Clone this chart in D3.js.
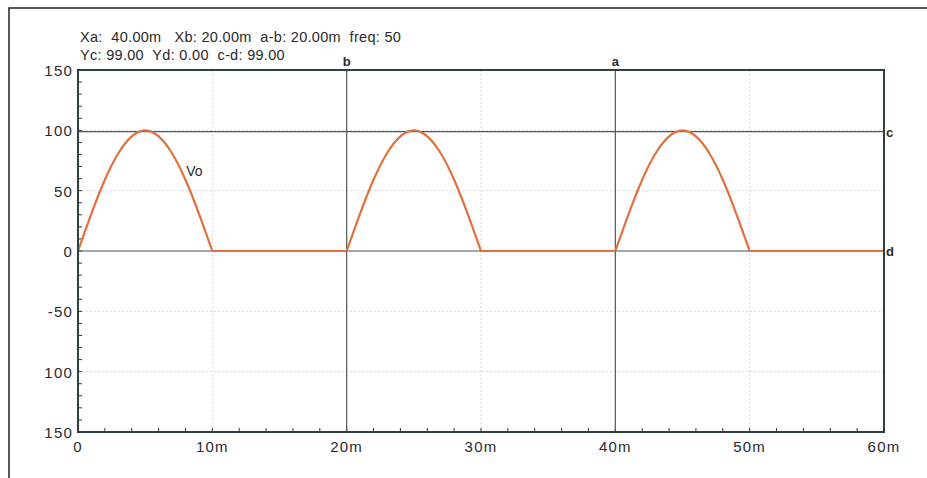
<!DOCTYPE html>
<html lang="en">
<head>
    <meta charset="UTF-8">
    <title>Vo</title>
    <style>
        body { margin: 0; background: #fff; }
        text { font-family: "Liberation Sans", Arial, sans-serif; fill: #2a2a2a; }
    </style>
</head>
<body>
    <div id="chart-wrapper"></div>
    <script src="https://d3js.org/d3.v7.min.js"></script>
    <script>
        // time in ms, Vo
        const timeMs = [0, 1, 2, 3, 4, 5, 6, 7, 8, 9, 10, 20, 21, 22, 23, 24, 25, 26, 27, 28, 29, 30, 40, 41, 42, 43, 44, 45, 46, 47, 48, 49, 50, 60]
        const vo = [0, 31, 59, 81, 95, 100, 95, 81, 59, 31, 0, 0, 31, 59, 81, 95, 100, 95, 81, 59, 31, 0, 0, 31, 59, 81, 95, 100, 95, 81, 59, 31, 0, 0]

        const xTicks = [0, 10, 20, 30, 40, 50, 60]
        const xTickLabels = ['0', '10m', '20m', '30m', '40m', '50m', '60m']
        const yTicks = [150, 100, 50, 0, -50, -100, -150]
        const yTickLabels = ['150', '100', '50', '0', '-50', '100', '150']

        const cursorsX = [{ name: 'b', t: 20 }, { name: 'a', t: 40 }]
        const cursorsY = [{ name: 'c', v: 99 }, { name: 'd', v: 0 }]
        const readout = [
            'Xa:  40.00m   Xb: 20.00m  a-b: 20.00m  freq: 50',
            'Yc: 99.00  Yd: 0.00  c-d: 99.00'
        ]

        const W = 927, H = 478
        const plot = { left: 78, right: 884, top: 70, bottom: 432 }

        const svg = d3.select('#chart-wrapper').append('svg')
            .attr('width', W).attr('height', H)

        // outer frame (only top + left show in the window)
        svg.append('rect')
            .attr('x', 9).attr('y', 8).attr('width', W).attr('height', H)
            .attr('fill', 'none').attr('stroke', '#222').attr('stroke-width', 1.5)

        const x = d3.scaleLinear().domain([0, 60]).range([plot.left, plot.right])
        const y = d3.scaleLinear().domain([-150, 150]).range([plot.bottom, plot.top])

        // dotted grid
        const grid = svg.append('g').attr('stroke', '#d3dae0').attr('stroke-width', 1).attr('stroke-dasharray', '2,2')
        grid.selectAll('.gx').data(xTicks.slice(1, -1)).enter().append('line')
            .attr('x1', d => x(d)).attr('x2', d => x(d))
            .attr('y1', plot.top).attr('y2', plot.bottom)
        grid.selectAll('.gy').data(yTicks.slice(1, -1)).enter().append('line')
            .attr('y1', d => y(d)).attr('y2', d => y(d))
            .attr('x1', plot.left).attr('x2', plot.right)

        // minor ticks, pointing inward
        const ticks = svg.append('g').attr('stroke', '#333').attr('stroke-width', 1)
        ticks.selectAll('.tx').data(d3.range(0, 61, 2)).enter().append('line')
            .attr('x1', d => x(d)).attr('x2', d => x(d))
            .attr('y1', plot.bottom).attr('y2', plot.bottom - 4)
        ticks.selectAll('.ty').data(d3.range(-150, 151, 10)).enter().append('line')
            .attr('y1', d => y(d)).attr('y2', d => y(d))
            .attr('x1', plot.left).attr('x2', plot.left + 4)

        // cursors
        const cur = svg.append('g').attr('stroke', '#4f5a5c').attr('stroke-width', 1.2)
        cur.selectAll('.cx').data(cursorsX).enter().append('line')
            .attr('x1', d => x(d.t)).attr('x2', d => x(d.t))
            .attr('y1', plot.top).attr('y2', plot.bottom)
        cur.selectAll('.cy').data(cursorsY).enter().append('line')
            .attr('y1', d => y(d.v)).attr('y2', d => y(d.v))
            .attr('x1', plot.left).attr('x2', plot.right)

        svg.selectAll('.cxl').data(cursorsX).enter().append('text')
            .attr('x', d => x(d.t)).attr('y', plot.top - 4)
            .attr('text-anchor', 'middle').attr('font-size', 13).attr('font-weight', 'bold')
            .text(d => d.name)
        svg.selectAll('.cyl').data(cursorsY).enter().append('text')
            .attr('x', plot.right + 2).attr('y', d => y(d.v) + 5)
            .attr('font-size', 13).attr('font-weight', 'bold')
            .text(d => d.name)

        // trace: split into pulses (smooth) and flat parts (straight)
        const pts = timeMs.map((t, i) => [t, vo[i]])
        const segments = []
        let seg = [pts[0]]
        for (let i = 1; i < pts.length; i++) {
            seg.push(pts[i])
            const flatNext = i + 1 < pts.length && pts[i][1] === 0 && pts[i + 1][1] === 0
            const pulseNext = i + 1 < pts.length && pts[i][1] === 0 && pts[i + 1][1] !== 0
            if (flatNext || pulseNext) {
                segments.push(seg)
                seg = [pts[i]]
            }
        }
        if (seg.length > 1) segments.push(seg)

        const smooth = d3.line().x(d => x(d[0])).y(d => y(d[1])).curve(d3.curveNatural)
        svg.append('g').selectAll('path').data(segments).enter().append('path')
            .attr('d', smooth)
            .attr('fill', 'none')
            .attr('stroke', '#e0713f')
            .attr('stroke-width', 2.2)

        svg.append('text').attr('x', x(8.05)).attr('y', y(62))
            .attr('font-size', 14).text('Vo')

        // plot frame
        svg.append('rect')
            .attr('x', plot.left).attr('y', plot.top)
            .attr('width', plot.right - plot.left).attr('height', plot.bottom - plot.top)
            .attr('fill', 'none').attr('stroke', '#2f4040').attr('stroke-width', 2)

        // tick labels
        svg.selectAll('.xl').data(xTicks).enter().append('text')
            .attr('x', d => x(d)).attr('y', plot.bottom + 20)
            .attr('text-anchor', 'middle').attr('font-size', 15).attr('letter-spacing', 1.2)
            .text((d, i) => xTickLabels[i])
        svg.selectAll('.yl').data(yTicks).enter().append('text')
            .attr('x', plot.left - 5).attr('y', d => y(d) + 6)
            .attr('text-anchor', 'end').attr('font-size', 15).attr('letter-spacing', 1.2)
            .text((d, i) => yTickLabels[i])

        // cursor readout
        svg.selectAll('.ro').data(readout).enter().append('text')
            .attr('x', 80).attr('y', (d, i) => 42 + i * 18)
            .attr('font-size', 14.5)
            .attr('letter-spacing', 0.3)
            .attr('xml:space', 'preserve')
            .style('white-space', 'pre')
            .text(d => d)
    </script>
</body>
</html>
